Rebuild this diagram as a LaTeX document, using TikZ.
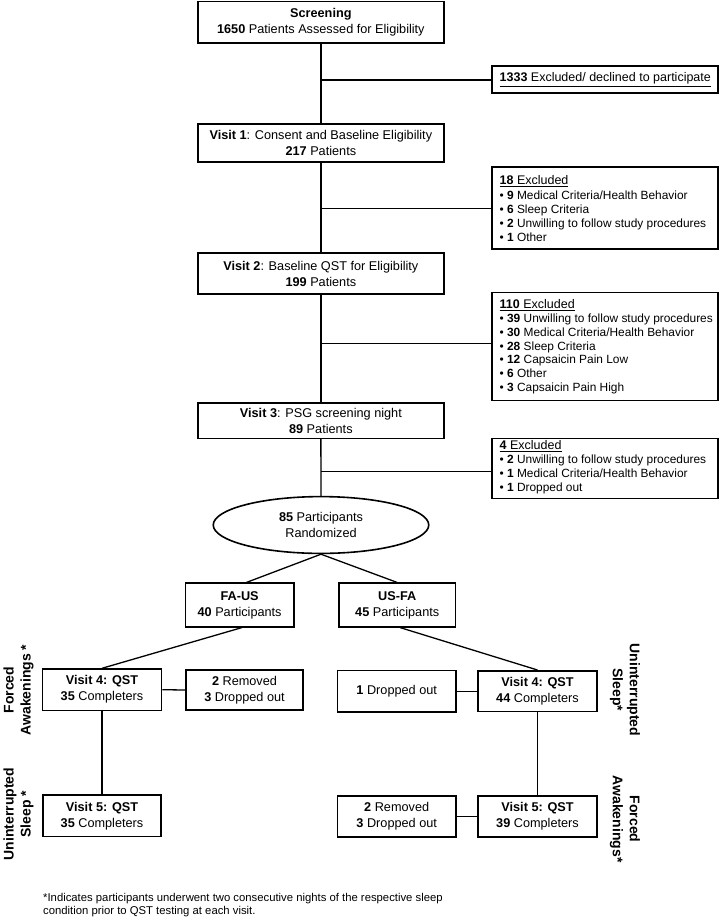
\documentclass[tikz,border=0pt]{standalone}
\usepackage{fontspec}
\setmainfont{Liberation Sans}
\usetikzlibrary{shapes.geometric}
\newcommand{\mainfs}{\fontsize{12.7}{16}\selectfont}
\newcommand{\listfs}{\fontsize{11.9}{13.7}\selectfont}
\newcommand{\headfs}{\fontsize{12.5}{13.7}\selectfont}
\newcommand{\footfs}{\fontsize{11.3}{13}\selectfont}
\newcommand{\labfs}{\fontsize{14}{17}\selectfont\bfseries}
\begin{document}
\begin{tikzpicture}[x=1pt,y=-1pt,
  box/.style={draw, line width=1.6pt, align=center, inner sep=0pt, font=\mainfs},
  exbox/.style={draw, line width=1.6pt, inner sep=0pt, minimum width=226.5pt},
  extext/.style={anchor=west, align=left, inner sep=0pt, font=\listfs},
  trunk/.style={line width=2pt},
  conn/.style={line width=1.3pt},
  lab/.style={align=center, inner sep=0pt, font=\labfs}]
\useasboundingbox (0,0) rectangle (720,921);

% main column
\node[box, minimum width=245.8pt, minimum height=41.8pt] (scr) at (320.85,22.35) {\textbf{Screening}\\\textbf{1650} Patients Assessed for Eligibility};
\node[box, minimum width=245.8pt, minimum height=38.2pt] (v1) at (320.85,142.9) {\textbf{Visit 1}: Consent and Baseline Eligibility\\\textbf{217} Patients};
\node[box, minimum width=245.8pt, minimum height=40.8pt] (v2) at (320.85,273.5) {\textbf{Visit 2}: Baseline QST for Eligibility\\\textbf{199} Patients};
\node[box, minimum width=245.8pt, minimum height=35.3pt] (v3) at (320.85,420.7) {\textbf{Visit 3}: PSG screening night\\\textbf{89} Patients};
\node[box, ellipse, minimum width=215.5pt, minimum height=56.8pt] (ell) at (321,525) {\textbf{85} Participants\\Randomized};

% exclusion boxes
\node[exbox, minimum height=27.5pt] (ex1) at (605,79.5) {};
\node[extext] (ex1t) at ([xshift=8.5pt]ex1.west) {{\headfs\underline{\textbf{1333} Excluded/ declined to participate}}};
\node[exbox, minimum height=81.9pt] (ex2) at (605,208.2) {};
\node[extext] (ex2t) at ([xshift=8.5pt]ex2.west) {{\headfs\underline{\textbf{18} Excluded}}\\[2pt]
• \textbf{9} Medical Criteria/Health Behavior\\
• \textbf{6} Sleep Criteria\\
• \textbf{2} Unwilling to follow study procedures\\
• \textbf{1} Other};
\node[exbox, minimum height=108pt] (ex3) at (605,346.5) {};
\node[extext] (ex3t) at ([xshift=8.5pt]ex3.west) {{\headfs\underline{\textbf{110} Excluded}}\\[1pt]
• \textbf{39} Unwilling to follow study procedures\\
• \textbf{30} Medical Criteria/Health Behavior\\
• \textbf{28} Sleep Criteria\\
• \textbf{12} Capsaicin Pain Low\\
• \textbf{6} Other\\
• \textbf{3} Capsaicin Pain High};
\node[exbox, minimum height=60pt] (ex4) at (605,468.5) {};
\node[extext] (ex4t) at ([xshift=8.5pt,yshift=1.5pt]ex4.west) {{\headfs\underline{\textbf{4} Excluded}}\\[1pt]
• \textbf{2} Unwilling to follow study procedures\\
• \textbf{1} Medical Criteria/Health Behavior\\
• \textbf{1} Dropped out};

% trunk connectors
\draw[trunk] (scr.south) -- (v1.north);
\draw[trunk] (v1.south) -- (v2.north);
\draw[conn] (v2.south) -- (v3.north);
\draw[conn] (v3.south) -- (ell.north);

\coordinate (j1) at (321,80);
\coordinate (j2) at (321,208.5);
\coordinate (j3) at (321,343.4);
\coordinate (j4) at (321,471.2);
\draw[conn] (j1) -- (j1 -| ex1.west);
\draw[conn] (j2) -- (j2 -| ex2.west);
\draw[conn] (j3) -- (j3 -| ex3.west);
\draw[conn] (j4) -- (j4 -| ex4.west);

% arms
\node[box, minimum width=108.5pt, minimum height=43.5pt] (fa) at (239.6,605) {\textbf{FA-US}\\\textbf{40} Participants};
\node[box, minimum width=116.9pt, minimum height=43.5pt] (us) at (397.2,605) {\textbf{US-FA}\\\textbf{45} Participants};
\draw[conn] (ell.south) -- ([xshift=6.8pt]fa.north);
\draw[conn] (ell.south) -- (us.north);

% left arm
\node[box, minimum width=119.1pt, minimum height=41.2pt] (v4l) at (102,689.7) {\textbf{Visit 4: QST}\\\textbf{35} Completers};
\node[box, minimum width=117.5pt, minimum height=40.5pt] (reml) at (244.5,690) {\textbf{2} Removed\\\textbf{3} Dropped out};
\node[box, minimum width=118.5pt, minimum height=41.5pt] (v5l) at (102,815.8) {\textbf{Visit 5: QST}\\\textbf{35} Completers};
\draw[conn] ([xshift=2.4pt]fa.south) -- (v4l.north);
\draw[conn] (v4l.east) -- (reml.west);
\draw[conn] (v4l.south) -- (v5l.north);

% right arm
\node[box, minimum width=118.9pt, minimum height=40.8pt] (v4r) at (537.5,691.2) {\textbf{Visit 4: QST}\\\textbf{44} Completers};
\node[box, minimum width=118.5pt, minimum height=41.2pt] (dropr) at (396.7,691.2) {\textbf{1} Dropped out};
\node[box, minimum width=118.9pt, minimum height=41.2pt] (v5r) at (537.5,816.4) {\textbf{Visit 5: QST}\\\textbf{39} Completers};
\node[box, minimum width=118.5pt, minimum height=41.2pt] (remr) at (396.7,816.4) {\textbf{2} Removed\\\textbf{3} Dropped out};
\draw[conn] ([xshift=2.8pt]us.south) -- (v4r.north);
\draw[conn] (dropr.east) -- (v4r.west);
\draw[conn] (v4r.south) -- (v5r.north);
\draw[conn] (remr.east) -- (v5r.west);

% condition labels
\node[lab, rotate=90] (lfa) at (18.5,690) {Forced\\Awakenings *};
\node[lab, rotate=90] (lus) at (18.5,814) {Uninterrupted\\Sleep *};
\node[lab, rotate=-90] (rus) at (625,690) {Uninterrupted\\Sleep*};
\node[lab, rotate=-90] (rfa) at (625,819) {Forced\\Awakenings*};

% footnote
\node[anchor=west, align=left, inner sep=0pt, font=\footfs] (fn) at (43,905.5) {*Indicates participants underwent two consecutive nights of the respective sleep\\condition prior to QST testing at each visit.};
\end{tikzpicture}
\end{document}
